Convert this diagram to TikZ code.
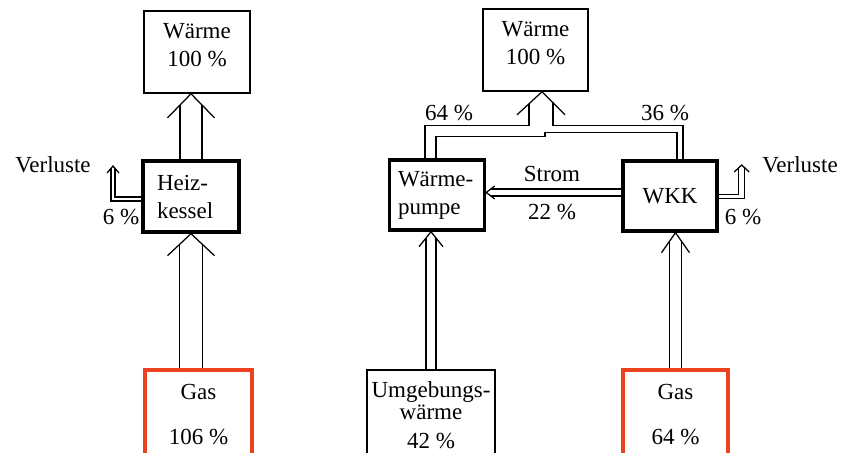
\documentclass[tikz,border=0pt]{standalone}
\usepackage{fontspec}
\setmainfont{Liberation Serif}
\usetikzlibrary{calc}
\definecolor{gasred}{RGB}{236,66,32}

\tikzset{
  thinbox/.style={draw, line width=1.6pt, inner sep=0pt},
  thickbox/.style={draw, line width=3.4pt, inner sep=0pt},
  gasbox/.style={draw=gasred, line width=4.5pt, inner sep=0pt, align=center,
    minimum height=90pt},
  flow/.style={line width=1.25pt}
}

% double line arrow going up: start, tip, half width, wing, wing depth
\newcommand\upflow[5]{%
  \draw[flow] ($(#1)+(-#3,0)$) -- ($(#2)+(-#3,{#3*#5/#4})$);
  \draw[flow] ($(#1)+(#3,0)$) -- ($(#2)+(#3,{#3*#5/#4})$);
  \draw[flow] ($(#2)+(-#4,#5)$) -- (#2) -- ($(#2)+(#4,#5)$);}

\begin{document}
\begin{tikzpicture}[x=1pt, y=-1pt, font=\fontsize{23}{28}\selectfont]
    \useasboundingbox (0,0) rectangle (850,452);

    % Heizkessel
    \node[thinbox, minimum width=106pt, minimum height=82pt, align=center,
      text depth=14pt] (waerme1) at (197,52) {Wärme\\100 \%};
    \node[thickbox, minimum height=71pt, text width=68pt, inner xsep=14pt,
      align=left] (heiz) at (191,196.5) {Heiz-\\kessel};
    \node[gasbox, minimum width=107pt] (gas1) at (198.5,415) {Gas\\[17pt]106 \%};

    \coordinate (s1) at (heiz.south |- gas1.north);
    \upflow{s1}{heiz.south}{11.5}{23.5}{22}
    \coordinate (t1) at (heiz.north |- waerme1.south);
    \upflow{heiz.north}{t1}{11}{23.5}{24}

    \coordinate (ltip) at ($(heiz.west)+(-28.3,-30.5)$);
    \draw[flow] ($(heiz.west)+(0,0.5)$) -| ($(ltip)+(2,2.3)$);
    \draw[flow] ($(heiz.west)+(0,4.5)$) -| ($(ltip)+(-2,2.3)$);
    \draw[flow] ($(ltip)+(-6,7)$) -- (ltip) -- ($(ltip)+(6,7)$);
    \node (verl1) at (53,165) {Verluste};
    \node (loss1) at (121,217) {6 \%};

    % Waermepumpe und WKK
    \node[thinbox, minimum width=105pt, minimum height=82pt, align=center,
      text depth=14pt] (waerme2) at (535.5,50) {Wärme\\100 \%};
    \node[thickbox, minimum height=70pt, text width=78pt, inner xsep=8.5pt,
      align=left] (wp) at (437,195) {Wärme-\\pumpe};
    \node[thickbox, minimum width=94pt, minimum height=70pt] (wkk) at (670,196) {WKK};
    \node[thinbox, minimum width=128pt, minimum height=90pt, align=center]
      (umg) at (431,415) {Umgebungs-\\[-6pt]wärme\\[1pt]42 \%};
    \node[gasbox, minimum width=105pt] (gas2) at (675.5,415) {Gas\\[17pt]64 \%};

    \coordinate (t2) at (umg.north |- wp.south);
    \upflow{umg.north}{t2}{5}{12}{15}
    \coordinate (t3) at (gas2.north |- wkk.south);
    \upflow{gas2.north}{t3}{6}{14}{20}

    % zusammenfuehrung
    \coordinate (tip) at ([xshift=6.5pt]waerme2.south);
    \coordinate (jl) at ($(tip)+(-13,34)$);
    \coordinate (jr) at ($(tip)+(11,34)$);
    \draw[flow] ([xshift=-12pt]wp.north) |- (jl) -- ($(tip)+(-13,{13*23/25})$);
    \draw[flow] ($(tip)+(11,{11*23/25})$) -- (jr) -| ([xshift=13pt]wkk.north);
    \draw[flow] ([xshift=-1pt]wp.north) |- ($(tip)+(3,45)$) -- ($(tip)+(3,41)$)
      -| ([xshift=7pt]wkk.north);
    \draw[flow] ($(tip)+(-25,23)$) -- (tip) -- ($(tip)+(23,23)$);
    \node (p64) at (449,113) {64 \%};
    \node (p36) at (665,113) {36 \%};

    % Strom
    \coordinate (stip) at ([yshift=2.5pt]wp.east);
    \coordinate (sstart) at (wkk.west |- stip);
    \draw[flow] ($(sstart)+(0,-3.5)$) -- ($(stip)+(4.6,-3.5)$);
    \draw[flow] ($(sstart)+(0,3.5)$) -- ($(stip)+(4.6,3.5)$);
    \draw[flow] ($(stip)+(8.5,-6.5)$) -- (stip) -- ($(stip)+(8.5,6.5)$);
    \node (strom) at (552,174) {Strom};
    \node (p22) at (552,212) {22 \%};

    \coordinate (rtip) at ($(wkk.east)+(23,-31)$);
    \draw[flow] ($(wkk.east)+(0,-1.5)$) -| ($(rtip)+(-3,2.8)$);
    \draw[flow] ($(wkk.east)+(0,2.5)$) -| ($(rtip)+(3,2.8)$);
    \draw[flow] ($(rtip)+(-7.5,7)$) -- (rtip) -- ($(rtip)+(7.5,7)$);
    \node (verl2) at (800,165) {Verluste};
    \node (loss2) at (743,217) {6 \%};
\end{tikzpicture}
\end{document}
